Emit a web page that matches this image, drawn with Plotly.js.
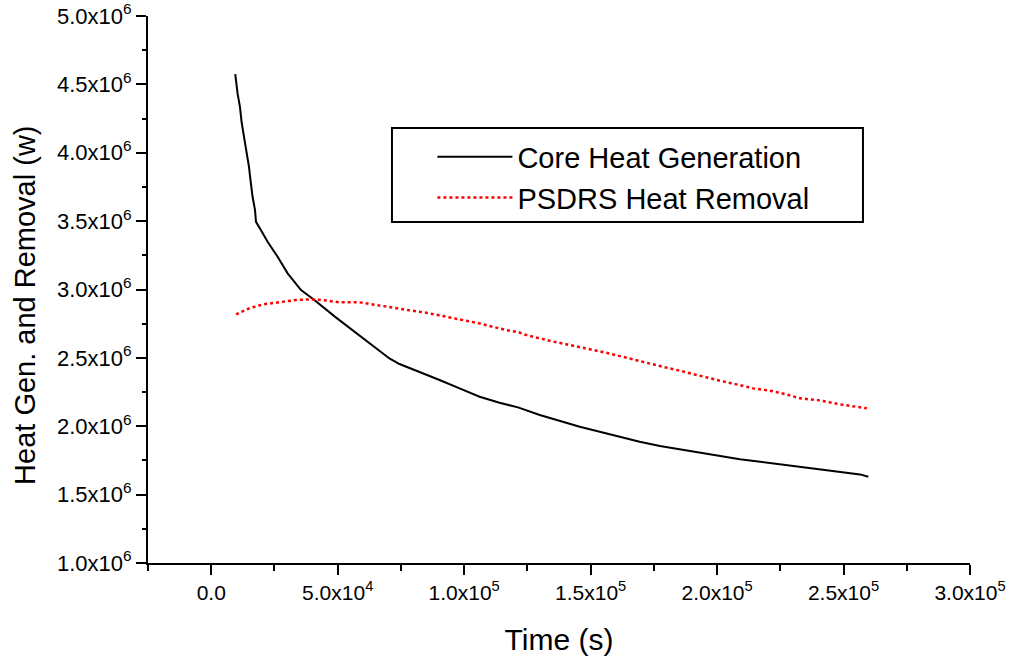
<!DOCTYPE html>
<html>
<head>
<meta charset="utf-8">
<script src="https://cdn.plot.ly/plotly-3.0.1.min.js"></script>
<style>html,body{margin:0;padding:0;background:#fff;}#chart{width:1011px;height:665px;}</style>
</head>
<body>
<div id="chart"></div>
<script>
// Time (s) and core heat generation (W)
var coreTime = [9500, 10410, 11360, 12000, 13060, 13970, 14930, 15440, 16350, 17300, 17700, 19680, 22290, 26250, 30210, 35510, 40780, 49000, 55940, 62550, 70470, 74430, 82350, 90270, 98190, 106100, 114000, 121300, 129900, 137800, 145700, 153600, 161500, 169400, 177400, 185300, 193200, 201100, 209000, 217000, 224900, 232800, 240700, 248600, 256500, 259800];
var coreHeat = [4.575e6, 4.434e6, 4.336e6, 4.226e6, 4.105e6, 4.007e6, 3.897e6, 3.812e6, 3.678e6, 3.582e6, 3.495e6, 3.434e6, 3.349e6, 3.239e6, 3.118e6, 2.996e6, 2.923e6, 2.800e6, 2.703e6, 2.606e6, 2.496e6, 2.455e6, 2.398e6, 2.338e6, 2.277e6, 2.216e6, 2.172e6, 2.138e6, 2.082e6, 2.040e6, 1.996e6, 1.960e6, 1.923e6, 1.887e6, 1.855e6, 1.831e6, 1.806e6, 1.782e6, 1.758e6, 1.741e6, 1.722e6, 1.700e6, 1.685e6, 1.665e6, 1.648e6, 1.631e6];

// Time (s) and PSDRS heat removal (W)
var psdrsTime = [9800, 15040, 20310, 26250, 33530, 39470, 44060, 50670, 58590, 63860, 69160, 74430, 79700, 85000, 90270, 95530, 100800, 106100, 111400, 116700, 121300, 124600, 133800, 141700, 148300, 156300, 164200, 169400, 177400, 185300, 193200, 201100, 207700, 214300, 220900, 227500, 232800, 240700, 248600, 259200];
var psdrsHeat = [2.818e6, 2.862e6, 2.891e6, 2.906e6, 2.923e6, 2.928e6, 2.923e6, 2.906e6, 2.906e6, 2.891e6, 2.874e6, 2.859e6, 2.844e6, 2.830e6, 2.811e6, 2.791e6, 2.769e6, 2.752e6, 2.727e6, 2.703e6, 2.689e6, 2.667e6, 2.625e6, 2.594e6, 2.569e6, 2.537e6, 2.501e6, 2.479e6, 2.440e6, 2.406e6, 2.367e6, 2.333e6, 2.306e6, 2.277e6, 2.260e6, 2.233e6, 2.204e6, 2.189e6, 2.160e6, 2.131e6];

var seriesNames = ['Core Heat Generation', 'PSDRS Heat Removal'];
var xTitle = 'Time (s)';
var yTitle = 'Heat Gen. and Removal (w)';

var xTickVals = [0, 50000, 100000, 150000, 200000, 250000, 300000];
var xTickText = ['0.0', '5.0x10<sup>4</sup>', '1.0x10<sup>5</sup>', '1.5x10<sup>5</sup>', '2.0x10<sup>5</sup>', '2.5x10<sup>5</sup>', '3.0x10<sup>5</sup>'];
var xMinorVals = [-25000, 25000, 75000, 125000, 175000, 225000, 275000];
var yTickVals = [1.0e6, 1.5e6, 2.0e6, 2.5e6, 3.0e6, 3.5e6, 4.0e6, 4.5e6, 5.0e6];
var yTickText = ['1.0x10<sup>6</sup>', '1.5x10<sup>6</sup>', '2.0x10<sup>6</sup>', '2.5x10<sup>6</sup>', '3.0x10<sup>6</sup>', '3.5x10<sup>6</sup>', '4.0x10<sup>6</sup>', '4.5x10<sup>6</sup>', '5.0x10<sup>6</sup>'];
var yMinorVals = [1.25e6, 1.75e6, 2.25e6, 2.75e6, 3.25e6, 3.75e6, 4.25e6, 4.75e6];

var xRange = [-25000, 300000];
var yRange = [1.0e6, 5.0e6];

var FONT = 'Liberation Sans, Arial, sans-serif';

var traces = [
  {x: coreTime, y: coreHeat, name: seriesNames[0], type: 'scatter', mode: 'lines',
   line: {color: '#000000', width: 2}},
  {x: psdrsTime, y: psdrsHeat, name: seriesNames[1], type: 'scatter', mode: 'lines',
   line: {color: '#ff0000', width: 2.5, dash: 'dot'}}
];

var layout = {
  width: 1011, height: 665,
  margin: {l: 148, r: 41, t: 16, b: 102},
  paper_bgcolor: '#ffffff', plot_bgcolor: '#ffffff',
  font: {family: FONT, color: '#000000'},
  showlegend: true,
  legend: {
    x: 0.346, y: 0.789, xanchor: 'left', yanchor: 'top',
    bgcolor: 'rgba(0,0,0,0)', borderwidth: 0,
    font: {family: FONT, size: 29, color: '#000'},
    itemwidth: 75, tracegroupgap: 0
  },
  shapes: [{type: 'rect', xref: 'paper', yref: 'paper', x0: 0.2968, x1: 0.8698, y0: 0.6234, y1: 0.7952,
            line: {color: '#000', width: 2}, fillcolor: '#ffffff', layer: 'below'}],
  annotations: [{
    text: yTitle, xref: 'paper', yref: 'paper', x: -0.1496, y: 0.470,
    xanchor: 'center', yanchor: 'middle', textangle: -90, showarrow: false,
    font: {family: FONT, size: 29, color: '#000'}
  }],
  xaxis: {
    range: xRange, showgrid: false, zeroline: false,
    showline: true, linecolor: '#000', linewidth: 2,
    tickmode: 'array', tickvals: xTickVals, ticktext: xTickText,
    ticks: 'outside', ticklen: 10, tickwidth: 2, tickcolor: '#000',
    tickfont: {family: FONT, size: 21},
    minor: {tickmode: 'array', tickvals: xMinorVals, ticks: 'outside', ticklen: 6, tickwidth: 2, tickcolor: '#000', showgrid: false},
    title: {text: xTitle, font: {family: FONT, size: 30}, standoff: 26}
  },
  yaxis: {
    range: yRange, showgrid: false, zeroline: false,
    showline: true, linecolor: '#000', linewidth: 2,
    tickmode: 'array', tickvals: yTickVals, ticktext: yTickText,
    ticks: 'outside', ticklen: 10, tickwidth: 2, tickcolor: '#000',
    tickfont: {family: FONT, size: 22},
    minor: {tickmode: 'array', tickvals: yMinorVals, ticks: 'outside', ticklen: 4, tickwidth: 2, tickcolor: '#000', showgrid: false}
  },
  xaxis2: {
    overlaying: 'x', side: 'top', anchor: 'y', range: xRange,
    showgrid: false, zeroline: false, showline: true, linecolor: '#000', linewidth: 2,
    tickmode: 'array', tickvals: xTickVals, showticklabels: false,
    ticks: 'inside', ticklen: 12, tickwidth: 2, tickcolor: '#000',
    minor: {tickmode: 'array', tickvals: xMinorVals, ticks: 'inside', ticklen: 5, tickwidth: 2, tickcolor: '#000', showgrid: false}
  },
  yaxis2: {
    overlaying: 'y', side: 'right', anchor: 'x', range: yRange,
    showgrid: false, zeroline: false, showline: true, linecolor: '#000', linewidth: 2,
    tickmode: 'array', tickvals: yTickVals, showticklabels: false,
    ticks: 'inside', ticklen: 12, tickwidth: 2, tickcolor: '#000',
    minor: {tickmode: 'array', tickvals: yMinorVals, ticks: 'inside', ticklen: 6, tickwidth: 2, tickcolor: '#000', showgrid: false}
  }
};

Plotly.newPlot('chart', traces, layout, {staticPlot: true, displayModeBar: false});
</script>
</body>
</html>
